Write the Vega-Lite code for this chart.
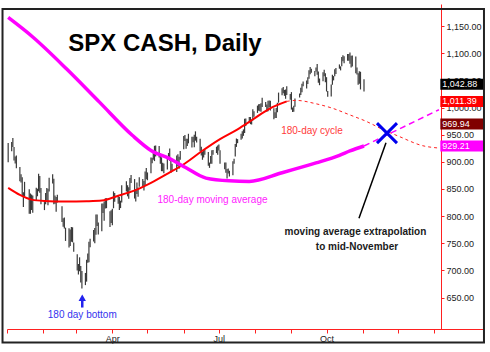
{
  "$schema": "https://vega.github.io/schema/vega-lite/v6.json",
  "width": 476,
  "height": 325,
  "autosize": {"type": "none"},
  "padding": {"left": 7, "top": 4, "right": 7, "bottom": 23},
  "background": "white",
  "view": {"stroke": null},
  "config": {
    "font": "Liberation Sans",
    "axis": {"grid": false, "title": null, "labelFont": "Liberation Sans", "labelFontSize": 9, "labelColor": "#222", "domainColor": "#ff2020", "tickColor": "#ff2020", "labelFlush": false, "labelOverlap": false}
  },
  "datasets": {
    "bars": [
      {"d":"2009-01-02","h":934.7,"l":899.4},{"d":"2009-01-05","h":936.6,"l":919.5},{"d":"2009-01-06","h":943.9,"l":927.3},{"d":"2009-01-07","h":927.5,"l":902.4},{"d":"2009-01-08","h":910.0,"l":896.8},{"d":"2009-01-09","h":911.9,"l":888.3},{"d":"2009-01-12","h":890.4,"l":864.3},{"d":"2009-01-13","h":877.0,"l":862.0},{"d":"2009-01-14","h":871.8,"l":836.9},{"d":"2009-01-15","h":844.0,"l":817.0},{"d":"2009-01-16","h":863.2,"l":836.3},{"d":"2009-01-20","h":849.6,"l":804.5},{"d":"2009-01-21","h":841.7,"l":804.3},{"d":"2009-01-22","h":839.7,"l":811.3},{"d":"2009-01-23","h":838.2,"l":806.1},{"d":"2009-01-26","h":852.5,"l":827.7},{"d":"2009-01-27","h":850.5,"l":836.6},{"d":"2009-01-28","h":877.9,"l":845.7},{"d":"2009-01-29","h":874.1,"l":843.2},{"d":"2009-01-30","h":851.7,"l":821.7},
      {"d":"2009-02-02","h":825.9,"l":811.1},{"d":"2009-02-03","h":842.6,"l":821.9},{"d":"2009-02-04","h":851.9,"l":829.2},{"d":"2009-02-05","h":850.6,"l":819.9},{"d":"2009-02-06","h":870.7,"l":845.4},{"d":"2009-02-09","h":877.0,"l":860.0},{"d":"2009-02-10","h":868.8,"l":822.1},{"d":"2009-02-11","h":838.2,"l":822.9},{"d":"2009-02-12","h":835.2,"l":808.1},{"d":"2009-02-13","h":839.4,"l":825.2},{"d":"2009-02-17","h":818.3,"l":789.2},{"d":"2009-02-18","h":796.2,"l":780.4},{"d":"2009-02-19","h":797.6,"l":777.0},{"d":"2009-02-20","h":778.7,"l":754.3},{"d":"2009-02-23","h":777.5,"l":742.4},{"d":"2009-02-24","h":775.5,"l":745.0},{"d":"2009-02-25","h":780.1,"l":752.9},{"d":"2009-02-26","h":779.4,"l":751.8},{"d":"2009-02-27","h":751.3,"l":734.5},
      {"d":"2009-03-02","h":729.6,"l":699.7},{"d":"2009-03-03","h":711.7,"l":692.3},{"d":"2009-03-04","h":724.1,"l":698.4},{"d":"2009-03-05","h":708.3,"l":677.9},{"d":"2009-03-06","h":699.0,"l":666.8},{"d":"2009-03-09","h":695.3,"l":672.9},{"d":"2009-03-10","h":719.6,"l":679.3},{"d":"2009-03-11","h":731.0,"l":713.9},{"d":"2009-03-12","h":752.6,"l":714.8},{"d":"2009-03-13","h":758.3,"l":742.5},{"d":"2009-03-16","h":774.5,"l":753.4},{"d":"2009-03-17","h":778.1,"l":749.9},{"d":"2009-03-18","h":803.0,"l":765.6},{"d":"2009-03-19","h":803.0,"l":781.8},{"d":"2009-03-20","h":788.1,"l":766.2},{"d":"2009-03-23","h":823.4,"l":772.3},{"d":"2009-03-24","h":823.4,"l":805.9},{"d":"2009-03-25","h":826.8,"l":791.4},{"d":"2009-03-26","h":832.9,"l":814.0},{"d":"2009-03-27","h":833.0,"l":814.6},{"d":"2009-03-30","h":809.1,"l":779.8},{"d":"2009-03-31","h":810.9,"l":787.3},
      {"d":"2009-04-01","h":813.6,"l":783.3},{"d":"2009-04-02","h":845.6,"l":814.5},{"d":"2009-04-03","h":842.5,"l":826.7},{"d":"2009-04-06","h":838.7,"l":822.9},{"d":"2009-04-07","h":835.3,"l":811.1},{"d":"2009-04-08","h":828.4,"l":814.8},{"d":"2009-04-09","h":856.9,"l":825.2},{"d":"2009-04-13","h":864.3,"l":845.4},{"d":"2009-04-14","h":856.9,"l":836.5},{"d":"2009-04-15","h":853.0,"l":831.9},{"d":"2009-04-16","h":870.4,"l":847.0},{"d":"2009-04-17","h":875.6,"l":860.9},{"d":"2009-04-20","h":868.3,"l":832.4},{"d":"2009-04-21","h":850.1,"l":826.8},{"d":"2009-04-22","h":861.8,"l":840.6},{"d":"2009-04-23","h":852.9,"l":835.6},{"d":"2009-04-24","h":871.8,"l":853.9},{"d":"2009-04-27","h":868.3,"l":854.6},{"d":"2009-04-28","h":864.5,"l":847.1},{"d":"2009-04-29","h":882.1,"l":856.8},{"d":"2009-04-30","h":888.7,"l":868.1},
      {"d":"2009-05-01","h":880.5,"l":866.1},{"d":"2009-05-04","h":907.9,"l":879.2},{"d":"2009-05-05","h":907.7,"l":897.3},{"d":"2009-05-06","h":920.3,"l":903.9},{"d":"2009-05-07","h":929.6,"l":901.4},{"d":"2009-05-08","h":930.2,"l":909.8},{"d":"2009-05-11","h":929.2,"l":907.9},{"d":"2009-05-12","h":915.6,"l":896.5},{"d":"2009-05-13","h":908.4,"l":882.8},{"d":"2009-05-14","h":898.4,"l":882.5},{"d":"2009-05-15","h":896.9,"l":878.9},{"d":"2009-05-18","h":910.0,"l":886.1},{"d":"2009-05-19","h":916.4,"l":905.2},{"d":"2009-05-20","h":924.6,"l":901.4},{"d":"2009-05-21","h":903.5,"l":879.6},{"d":"2009-05-22","h":896.7,"l":884.8},{"d":"2009-05-26","h":911.8,"l":881.5},{"d":"2009-05-27","h":913.8,"l":891.9},{"d":"2009-05-28","h":909.5,"l":887.2},{"d":"2009-05-29","h":920.0,"l":903.8},
      {"d":"2009-06-01","h":947.8,"l":923.3},{"d":"2009-06-02","h":949.4,"l":938.5},{"d":"2009-06-03","h":942.5,"l":923.9},{"d":"2009-06-04","h":942.5,"l":929.3},{"d":"2009-06-05","h":951.7,"l":934.1},{"d":"2009-06-08","h":946.3,"l":926.4},{"d":"2009-06-09","h":946.3,"l":936.1},{"d":"2009-06-10","h":949.8,"l":927.1},{"d":"2009-06-11","h":956.2,"l":939.0},{"d":"2009-06-12","h":946.3,"l":935.7},{"d":"2009-06-15","h":942.5,"l":919.7},{"d":"2009-06-16","h":928.0,"l":911.6},{"d":"2009-06-17","h":918.4,"l":903.8},{"d":"2009-06-18","h":921.9,"l":907.9},{"d":"2009-06-19","h":921.9,"l":913.0},{"d":"2009-06-22","h":918.1,"l":893.0},{"d":"2009-06-23","h":898.7,"l":888.9},{"d":"2009-06-24","h":910.9,"l":896.6},{"d":"2009-06-25","h":921.4,"l":896.3},{"d":"2009-06-26","h":922.0,"l":913.0},{"d":"2009-06-29","h":927.9,"l":916.2},{"d":"2009-06-30","h":930.0,"l":912.9},
      {"d":"2009-07-01","h":931.9,"l":920.8},{"d":"2009-07-02","h":921.2,"l":896.4},{"d":"2009-07-06","h":898.7,"l":886.4},{"d":"2009-07-07","h":898.6,"l":879.9},{"d":"2009-07-08","h":886.8,"l":869.3},{"d":"2009-07-09","h":887.9,"l":878.5},{"d":"2009-07-10","h":883.6,"l":872.8},{"d":"2009-07-13","h":901.1,"l":875.3},{"d":"2009-07-14","h":905.8,"l":896.5},{"d":"2009-07-15","h":933.0,"l":910.0},{"d":"2009-07-16","h":943.0,"l":927.5},{"d":"2009-07-17","h":941.9,"l":934.4},{"d":"2009-07-20","h":951.6,"l":940.9},{"d":"2009-07-21","h":956.5,"l":943.2},{"d":"2009-07-22","h":959.8,"l":947.9},{"d":"2009-07-23","h":979.4,"l":953.3},{"d":"2009-07-24","h":979.8,"l":965.9},{"d":"2009-07-27","h":982.5,"l":972.3},{"d":"2009-07-28","h":982.5,"l":969.4},{"d":"2009-07-29","h":977.8,"l":968.7},{"d":"2009-07-30","h":996.7,"l":976.0},{"d":"2009-07-31","h":993.2,"l":982.9},
      {"d":"2009-08-03","h":1003.6,"l":990.2},{"d":"2009-08-04","h":1006.0,"l":994.3},{"d":"2009-08-05","h":1006.6,"l":993.2},{"d":"2009-08-06","h":1008.0,"l":992.4},{"d":"2009-08-07","h":1018.0,"l":1001.0},{"d":"2009-08-10","h":1010.1,"l":1000.9},{"d":"2009-08-11","h":1005.8,"l":992.4},{"d":"2009-08-12","h":1012.6,"l":993.4},{"d":"2009-08-13","h":1013.1,"l":1000.8},{"d":"2009-08-14","h":1012.6,"l":994.6},{"d":"2009-08-17","h":998.8,"l":978.5},{"d":"2009-08-18","h":991.2,"l":980.6},{"d":"2009-08-19","h":999.0,"l":980.6},{"d":"2009-08-20","h":1008.9,"l":991.6},{"d":"2009-08-21","h":1027.6,"l":1009.1},{"d":"2009-08-24","h":1035.8,"l":1022.5},{"d":"2009-08-25","h":1037.8,"l":1026.2},{"d":"2009-08-26","h":1032.5,"l":1021.6},{"d":"2009-08-27","h":1033.3,"l":1016.2},{"d":"2009-08-28","h":1039.5,"l":1023.1},{"d":"2009-08-31","h":1025.2,"l":1014.6},
      {"d":"2009-09-01","h":1028.5,"l":996.3},{"d":"2009-09-02","h":1000.3,"l":992.0},{"d":"2009-09-03","h":1003.4,"l":992.3},{"d":"2009-09-04","h":1016.5,"l":1001.7},{"d":"2009-09-08","h":1026.1,"l":1018.7},{"d":"2009-09-09","h":1036.3,"l":1023.0},{"d":"2009-09-10","h":1044.1,"l":1028.0},{"d":"2009-09-11","h":1048.2,"l":1039.3},{"d":"2009-09-14","h":1049.7,"l":1035.0},{"d":"2009-09-15","h":1056.0,"l":1043.4},{"d":"2009-09-16","h":1068.8,"l":1052.9},{"d":"2009-09-17","h":1074.8,"l":1061.2},{"d":"2009-09-18","h":1071.5,"l":1064.3},{"d":"2009-09-21","h":1067.3,"l":1057.5},{"d":"2009-09-22","h":1073.8,"l":1066.4},{"d":"2009-09-23","h":1080.2,"l":1060.4},{"d":"2009-09-24","h":1066.3,"l":1045.9},{"d":"2009-09-25","h":1053.5,"l":1041.2},{"d":"2009-09-28","h":1065.1,"l":1048.6},{"d":"2009-09-29","h":1069.6,"l":1057.8},{"d":"2009-09-30","h":1063.4,"l":1046.5},
      {"d":"2009-10-01","h":1056.0,"l":1029.6},{"d":"2009-10-02","h":1030.6,"l":1020.0},{"d":"2009-10-05","h":1042.6,"l":1020.6},{"d":"2009-10-06","h":1060.6,"l":1042.0},{"d":"2009-10-07","h":1058.0,"l":1050.1},{"d":"2009-10-08","h":1070.7,"l":1057.6},{"d":"2009-10-09","h":1073.0,"l":1062.0},{"d":"2009-10-12","h":1079.5,"l":1071.6},{"d":"2009-10-13","h":1075.9,"l":1068.5},{"d":"2009-10-14","h":1093.2,"l":1076.3},{"d":"2009-10-15","h":1096.6,"l":1085.4},{"d":"2009-10-16","h":1094.7,"l":1081.5},{"d":"2009-10-19","h":1098.6,"l":1086.2},{"d":"2009-10-20","h":1098.6,"l":1086.2},{"d":"2009-10-21","h":1101.4,"l":1080.8},{"d":"2009-10-22","h":1095.3,"l":1073.8},{"d":"2009-10-23","h":1095.8,"l":1075.5},{"d":"2009-10-26","h":1094.3,"l":1063.1},{"d":"2009-10-27","h":1074.0,"l":1061.1},{"d":"2009-10-28","h":1063.3,"l":1042.2},{"d":"2009-10-29","h":1066.8,"l":1043.9},{"d":"2009-10-30","h":1066.0,"l":1033.4},{"d":"2009-11-02","h":1052.2,"l":1029.4}
    ],
    "ma": [
      {"d":"2009-01-02","v":1166},{"d":"2009-01-23","v":1130},{"d":"2009-02-21","v":1071},{"d":"2009-03-21","v":1010},{"d":"2009-04-18","v":949},{"d":"2009-05-04","v":921},{"d":"2009-05-20","v":906},{"d":"2009-06-03","v":889},{"d":"2009-06-20","v":870},{"d":"2009-07-10","v":865},{"d":"2009-07-27","v":864},{"d":"2009-08-24","v":880},{"d":"2009-09-22","v":898},{"d":"2009-10-12","v":912},{"d":"2009-10-21","v":920},{"d":"2009-11-02","v":929.21}
    ],
    "maProj": [
      {"d":"2009-11-02","v":929.21},{"d":"2010-01-05","v":996}
    ],
    "cycle": [
      {"d":"2009-01-02","v":852},{"d":"2009-01-12","v":839},{"d":"2009-01-22","v":830.4},{"d":"2009-02-02","v":828},{"d":"2009-02-20","v":827},{"d":"2009-03-10","v":827.5},{"d":"2009-03-23","v":828.6},{"d":"2009-04-06","v":837.5},{"d":"2009-04-19","v":846.4},{"d":"2009-05-04","v":861.4},{"d":"2009-05-19","v":879.3},{"d":"2009-06-02","v":897},{"d":"2009-06-16","v":919},{"d":"2009-07-02","v":942},{"d":"2009-07-17","v":960},{"d":"2009-07-30","v":978},{"d":"2009-08-13","v":997.7},{"d":"2009-08-28","v":1011.39}
    ],
    "cycleProj": [
      {"d":"2009-08-28","v":1011.39},{"d":"2009-09-05","v":1013.2},{"d":"2009-09-22","v":1007},{"d":"2009-10-06","v":998.8},{"d":"2009-10-21","v":986.4},{"d":"2009-11-04","v":974.5},{"d":"2009-11-18","v":959.6},{"d":"2009-12-02","v":946.8},{"d":"2009-12-22","v":929.8},{"d":"2010-01-05","v":925.4}
    ],
    "last": [
      {"label":"1,042.88","value":1042.88,"series":"SPX"},
      {"label":"1,011.39","value":1011.39,"series":"cycle"},
      {"label":"969.94","value":969.94,"series":"cycle2"},
      {"label":"929.21","value":929.21,"series":"ma"}
    ]
  },
  "layer": [
    {
      "data": {"name": "bars"},
      "mark": {"type": "rule", "color": "#3a3a3a", "strokeWidth": 1.2},
      "encoding": {
        "x": {"field": "d", "type": "temporal",
          "scale": {"domain": [{"year": 2009, "month": 1, "date": 1}, {"year": 2010, "month": 2, "date": 11, "hours": 16}]},
          "axis": {"orient": "bottom", "tickSize": 4, "labelPadding": 1, "labelOverlap": false, "labelFlush": false, "tickCount": 40,
            "values": [{"year":2009,"month":1,"date":1},{"year":2009,"month":2,"date":1},{"year":2009,"month":3,"date":1},{"year":2009,"month":4,"date":1},{"year":2009,"month":5,"date":1},{"year":2009,"month":6,"date":1},{"year":2009,"month":7,"date":1},{"year":2009,"month":8,"date":1},{"year":2009,"month":9,"date":1},{"year":2009,"month":10,"date":1},{"year":2009,"month":11,"date":1},{"year":2009,"month":12,"date":1},{"year":2010,"month":1,"date":1}],
            "labelExpr": "month(datum.value) == 3 ? 'Apr' : month(datum.value) == 6 ? 'Jul' : month(datum.value) == 9 ? 'Oct' : ''"}
        },
        "y": {"field": "l", "type": "quantitative",
          "scale": {"domain": [601.25, 1181.6], "zero": false, "nice": false},
          "axis": {"orient": "right", "offset": -42, "tickSize": 3, "labelPadding": 2, "format": ",.2f", "labelOverlap": false, "labelFlush": false, "tickCount": 40,
            "values": [650, 700, 750, 800, 850, 900, 950, 1000, 1050, 1100, 1150]}
        },
        "y2": {"field": "h"}
      }
    },
    {
      "data": {"values": [{}]},
      "mark": {"type": "rect", "filled": false, "stroke": "#222", "strokeWidth": 2},
      "encoding": {
        "x": {"datum": {"year": 2008, "month": 12, "date": 28, "hours": 4}, "type": "temporal"},
        "x2": {"datum": {"year": 2010, "month": 2, "date": 12, "hours": 12}},
        "y": {"datum": 1181.6, "type": "quantitative"},
        "y2": {"datum": 567.3}
      }
    },
    {
      "data": {"name": "cycle"},
      "mark": {"type": "line", "color": "#ff0000", "strokeWidth": 2, "interpolate": "monotone"},
      "encoding": {"x": {"field": "d", "type": "temporal"}, "y": {"field": "v", "type": "quantitative"}}
    },
    {
      "data": {"name": "cycleProj"},
      "mark": {"type": "line", "color": "#ff2020", "strokeWidth": 1, "strokeDash": [3, 3], "interpolate": "monotone"},
      "encoding": {"x": {"field": "d", "type": "temporal"}, "y": {"field": "v", "type": "quantitative"}}
    },
    {
      "data": {"name": "ma"},
      "mark": {"type": "line", "color": "#ff00ff", "strokeWidth": 3.5, "interpolate": "monotone"},
      "encoding": {"x": {"field": "d", "type": "temporal"}, "y": {"field": "v", "type": "quantitative"}}
    },
    {
      "data": {"name": "maProj"},
      "mark": {"type": "line", "color": "#ff00ff", "strokeWidth": 1.5, "strokeDash": [6, 4]},
      "encoding": {"x": {"field": "d", "type": "temporal"}, "y": {"field": "v", "type": "quantitative"}}
    },
    {
      "data": {"name": "last"},
      "mark": {"type": "bar", "size": 11},
      "encoding": {
        "x": {"datum": {"year": 2010, "month": 1, "date": 6, "hours": 5}, "type": "temporal"},
        "x2": {"datum": {"year": 2010, "month": 2, "date": 11, "hours": 16}},
        "y": {"field": "value", "type": "quantitative"},
        "color": {"field": "series", "type": "nominal", "legend": null,
          "scale": {"domain": ["SPX", "cycle", "cycle2", "ma"], "range": ["#000000", "#ff0000", "#800000", "#ff00ff"]}}
      }
    },
    {
      "data": {"name": "last"},
      "mark": {"type": "text", "align": "left", "baseline": "middle", "dx": 2, "fontSize": 9, "color": "white"},
      "encoding": {
        "x": {"datum": {"year": 2010, "month": 1, "date": 6, "hours": 5}, "type": "temporal"},
        "y": {"field": "value", "type": "quantitative"},
        "text": {"field": "label"}
      }
    },
    {
      "data": {"values": [{}]},
      "mark": {"type": "text", "text": "SPX CASH, Daily", "align": "left", "baseline": "alphabetic", "fontSize": 24, "fontWeight": "bold", "color": "#000"},
      "encoding": {
        "x": {"datum": {"year": 2009, "month": 2, "date": 22, "hours": 9}, "type": "temporal"},
        "y": {"datum": 1104.3, "type": "quantitative"}
      }
    },
    {
      "data": {"values": [{}]},
      "mark": {"type": "text", "text": "180-day cycle", "align": "center", "baseline": "middle", "fontSize": 10, "color": "#ff3b3b"},
      "encoding": {
        "x": {"datum": {"year": 2009, "month": 9, "date": 18, "hours": 14}, "type": "temporal"},
        "y": {"datum": 956.6, "type": "quantitative"}
      }
    },
    {
      "data": {"values": [{}]},
      "mark": {"type": "text", "text": "180-day moving average", "align": "center", "baseline": "middle", "fontSize": 10, "color": "#ff22ff"},
      "encoding": {
        "x": {"datum": {"year": 2009, "month": 6, "date": 25, "hours": 14}, "type": "temporal"},
        "y": {"datum": 830.4, "type": "quantitative"}
      }
    },
    {
      "data": {"values": [{}]},
      "mark": {"type": "text", "text": "moving average extrapolation", "align": "center", "baseline": "middle", "fontSize": 10, "fontWeight": "bold", "color": "#1a1a1a"},
      "encoding": {
        "x": {"datum": {"year": 2009, "month": 10, "date": 25, "hours": 17}, "type": "temporal"},
        "y": {"datum": 770.9, "type": "quantitative"}
      }
    },
    {
      "data": {"values": [{}]},
      "mark": {"type": "text", "text": "to mid-November", "align": "center", "baseline": "middle", "fontSize": 10, "fontWeight": "bold", "color": "#1a1a1a"},
      "encoding": {
        "x": {"datum": {"year": 2009, "month": 10, "date": 27}, "type": "temporal"},
        "y": {"datum": 742.3, "type": "quantitative"}
      }
    },
    {
      "data": {"values": [{}]},
      "mark": {"type": "text", "text": "180 day bottom", "align": "center", "baseline": "middle", "fontSize": 10, "color": "#3333ee"},
      "encoding": {
        "x": {"datum": {"year": 2009, "month": 3, "date": 6, "hours": 7}, "type": "temporal"},
        "y": {"datum": 617.3, "type": "quantitative"}
      }
    },
    {
      "data": {"values": [{}]},
      "mark": {"type": "rule", "color": "#2222ee", "strokeWidth": 2.5},
      "encoding": {
        "x": {"datum": {"year": 2009, "month": 3, "date": 6, "hours": 7}, "type": "temporal"},
        "y": {"datum": 648, "type": "quantitative"},
        "y2": {"datum": 631.6}
      }
    },
    {
      "data": {"values": [{}]},
      "mark": {"type": "point", "shape": "triangle-up", "filled": true, "size": 55, "color": "#2222ee", "opacity": 1},
      "encoding": {
        "x": {"datum": {"year": 2009, "month": 3, "date": 6, "hours": 7}, "type": "temporal"},
        "y": {"datum": 649.5, "type": "quantitative"}
      }
    },
    {
      "data": {"values": [{}]},
      "mark": {"type": "rule", "color": "#000", "strokeWidth": 1.5},
      "encoding": {
        "x": {"datum": {"year": 2009, "month": 11, "date": 20, "hours": 19}, "type": "temporal"},
        "y": {"datum": 935.2, "type": "quantitative"},
        "x2": {"datum": {"year": 2009, "month": 10, "date": 28, "hours": 17}},
        "y2": {"datum": 795.9}
      }
    },
    {
      "data": {"values": [{}]},
      "mark": {"type": "point", "shape": "M-1,-1L1,1M-1,1L1,-1", "filled": false, "size": 400, "stroke": "#0000ee", "strokeWidth": 3, "opacity": 1},
      "encoding": {
        "x": {"datum": {"year": 2009, "month": 11, "date": 21, "hours": 15}, "type": "temporal"},
        "y": {"datum": 953, "type": "quantitative"}
      }
    }
  ]
}
